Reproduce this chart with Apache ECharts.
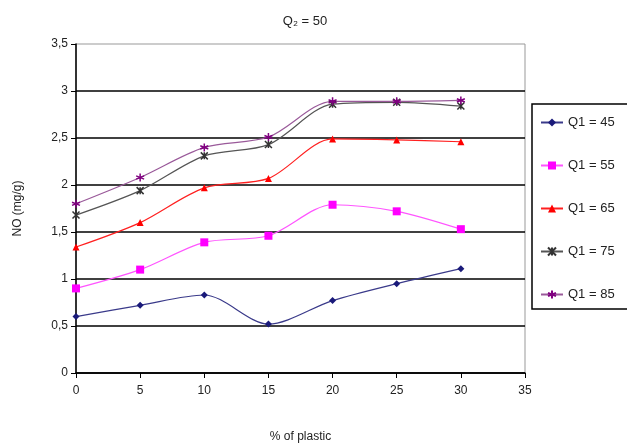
<!DOCTYPE html>
<html><head><meta charset="utf-8">
<script src="https://cdn.jsdelivr.net/npm/echarts@6/dist/echarts.min.js"></script>
<style>html,body{margin:0;padding:0;background:#fff}#c{width:627px;height:448px}</style>
</head><body><div id="c"></div>
<script>
const xValues = [0, 5, 10, 15, 20, 25, 30];
const seriesNames = ['Q1 = 45', 'Q1 = 55', 'Q1 = 65', 'Q1 = 75', 'Q1 = 85'];
const q45 = [0.60, 0.72, 0.83, 0.52, 0.77, 0.95, 1.11];
const q55 = [0.90, 1.10, 1.39, 1.46, 1.79, 1.72, 1.53];
const q65 = [1.34, 1.60, 1.97, 2.07, 2.49, 2.48, 2.46];
const q75 = [1.68, 1.94, 2.31, 2.43, 2.86, 2.88, 2.84];
const q85 = [1.80, 2.08, 2.40, 2.51, 2.89, 2.89, 2.90];
const allValues = [q45, q55, q65, q75, q85];

const styles = [
  {color: '#1a1a7a', symbol: 'diamond', size: 7},
  {color: '#ff00ff', symbol: 'rect', size: 8},
  {color: '#ff0000', symbol: 'triangle', size: 7},
  {color: '#333333', symbol: 'path://M0,0L10,10M10,0L0,10M5,0L5,10', size: 7, stroke: true},
  {color: '#800080', symbol: 'path://M5,0L5,10M0,3L10,7M0,7L10,3', size: 8, stroke: true}
];
const lineColors = ['#3a3a8a', '#ff55ff', '#ff2020', '#555555', '#9a5a9a'];

const chart = echarts.init(document.getElementById('c'));
const font = 'Liberation Sans, Arial, sans-serif';
chart.setOption({
  animation: false,
  textStyle: {fontFamily: font},
  title: {text: 'Q\u2082 = 50', left: 300, top: 10, textAlign: 'center',
    textStyle: {fontSize: 13, fontWeight: 'normal', color: '#222', fontFamily: font}},
  grid: {left: 76, right: 102, top: 44, bottom: 75, show: true, borderColor: '#999', borderWidth: 1},
  legend: {
    orient: 'vertical', left: 532, top: 104,
    padding: [12, 40, 8, 8], itemGap: 30, itemWidth: 22, itemHeight: 10,
    borderColor: '#000', borderWidth: 1.5, backgroundColor: '#fff',
    textStyle: {fontSize: 13, color: '#222', fontFamily: font},
    data: seriesNames
  },
  xAxis: {
    type: 'value', min: 0, max: 35, interval: 5,
    name: '% of plastic', nameLocation: 'middle', nameGap: 58,
    nameTextStyle: {fontSize: 12, color: '#222'},
    axisLine: {lineStyle: {color: '#000', width: 1.5}},
    axisTick: {show: true, length: 5, lineStyle: {color: '#000'}},
    axisLabel: {fontSize: 12, color: '#222', margin: 12},
    splitLine: {show: false}
  },
  yAxis: {
    type: 'value', min: 0, max: 3.5, interval: 0.5,
    name: 'NO (mg/g)', nameLocation: 'middle', nameGap: 52,
    nameTextStyle: {fontSize: 12, color: '#222'},
    axisLine: {show: true, lineStyle: {color: '#000', width: 1.5}},
    axisTick: {show: true, length: 5, lineStyle: {color: '#000'}},
    axisLabel: {fontSize: 12, color: '#222', margin: 8,
      formatter: v => String(v).replace('.', ',')},
    splitLine: {show: true, showMaxLine: false, lineStyle: {color: '#000', width: 1.5}}
  },
  series: seriesNames.map((n, i) => ({
    name: n, type: 'line', smooth: 0.3,
    data: xValues.map((x, j) => [x, allValues[i][j]]),
    symbol: styles[i].symbol, symbolSize: styles[i].size,
    lineStyle: {color: lineColors[i], width: 1.2},
    itemStyle: styles[i].stroke
      ? {color: styles[i].color, borderColor: styles[i].color, borderWidth: 1.5}
      : {color: styles[i].color}
  }))
});
</script></body></html>
